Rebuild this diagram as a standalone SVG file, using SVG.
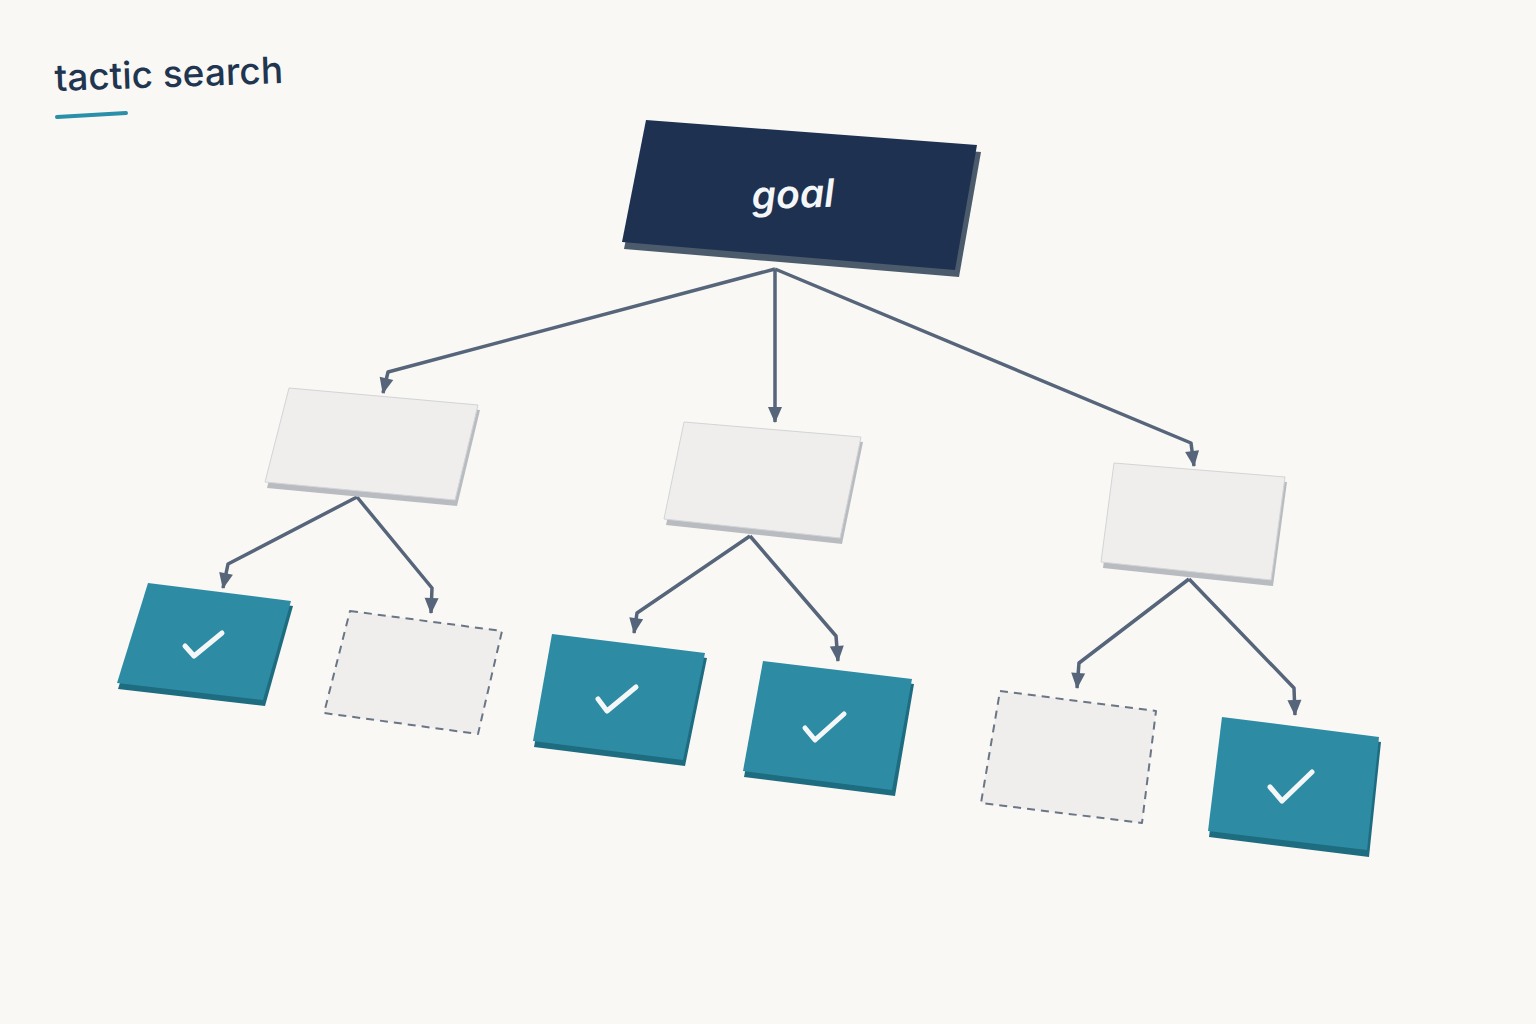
<svg xmlns="http://www.w3.org/2000/svg" width="1536" height="1024" viewBox="0 0 1536 1024">
<defs>
<style>
.title{font-family:"Inter","Liberation Sans",sans-serif;font-size:37px;fill:#1f3550;font-weight:500}
.goaltxt{font-family:"Inter","Liberation Sans",sans-serif;font-size:39px;fill:#f4f6f8;font-style:italic;font-weight:600}
.conn{fill:none;stroke:#56657a;stroke-width:3.5;stroke-linejoin:round;marker-end:url(#arr)}
.gface{fill:#1e3150}
.gside{fill:#4b5b6c}
.mface{fill:#efeeec;stroke:#d2d4d6;stroke-width:1}
.mside{fill:#b8bcc0}
.tface{fill:#2e8ba4}
.tside{fill:#1e6c80}
.dface{fill:#efeeec;stroke:#6a7585;stroke-width:2;stroke-dasharray:8 6;stroke-linejoin:round}
.chk{fill:none;stroke:#f4f7f8;stroke-width:5;stroke-linecap:round;stroke-linejoin:round}
</style>
<marker id="arr" markerUnits="userSpaceOnUse" markerWidth="18" markerHeight="18" viewBox="0 0 18 18" refX="16" refY="9" orient="auto">
<path d="M1,2 L17,9 L1,16 Z" fill="#56657a"/>
</marker>
</defs>
<rect width="1536" height="1024" fill="#f9f8f5"/>
<g id="title">
<text class="title" x="55" y="91" transform="rotate(-2 55 91)">tactic search</text>
<line x1="57" y1="117" x2="126" y2="113" stroke="#2a8fa8" stroke-width="4" stroke-linecap="round"/>
</g>
<g id="connectors">
<path class="conn" d="M775,269 L388,372 L383,393"/>
<path class="conn" d="M775,269 L775,422"/>
<path class="conn" d="M775,269 L1191,443 L1194,466"/>
<path class="conn" d="M357,497 L228,564 L223,588"/>
<path class="conn" d="M357,497 L432,588 L431,613"/>
<path class="conn" d="M750,536 L637,613 L634,633"/>
<path class="conn" d="M750,536 L836,636 L838,661"/>
<path class="conn" d="M1189,579 L1079,663 L1077,688"/>
<path class="conn" d="M1189,579 L1294,688 L1295,715"/>
</g>
<g id="goal">
<polygon class="gside" points="648,127 981,152 959,277 624,249"/>
<polygon class="gface" points="646,120 977,145 955,270 622,242"/>
<text class="goaltxt" x="793" y="208" text-anchor="middle" transform="rotate(-2 793 195)">goal</text>
</g>
<g id="tactic-a">
<polygon class="mside" points="291,393 480,410 457,506 267,488"/>
<polygon class="mface" points="289,388 478,405 455,500 265,482"/>
</g>
<g id="tactic-b">
<polygon class="mside" points="686,427 863,442 842,544 666,525"/>
<polygon class="mface" points="684,422 861,437 840,538 664,519"/>
</g>
<g id="tactic-c">
<polygon class="mside" points="1116,468 1287,482 1273,586 1103,568"/>
<polygon class="mface" points="1114,463 1285,477 1271,580 1101,562"/>
</g>
<g id="leaf-1">
<polygon class="tside" points="150,588 293,606 265,706 118,689"/>
<polygon class="tface" points="148,583 291,601 263,700 117,683"/>
<polyline class="chk" points="185,646 194,656 222,633"/>
</g>
<g id="leaf-2">
<polygon class="dface" points="350,611 502,631 478,734 324,713"/>
</g>
<g id="leaf-3">
<polygon class="tside" points="554,639 707,658 685,766 534,747"/>
<polygon class="tface" points="552,634 705,653 683,760 533,741"/>
<polyline class="chk" points="598,699 607,711 636,687"/>
</g>
<g id="leaf-4">
<polygon class="tside" points="765,666 914,684 895,796 744,777"/>
<polygon class="tface" points="763,661 912,679 892,790 743,771"/>
<polyline class="chk" points="805,728 815,740 844,714"/>
</g>
<g id="leaf-5">
<polygon class="dface" points="1000,691 1156,711 1142,823 981,803"/>
</g>
<g id="leaf-6">
<polygon class="tside" points="1224,722 1381,742 1369,857 1209,837"/>
<polygon class="tface" points="1222,717 1379,737 1367,850 1208,831"/>
<polyline class="chk" points="1270,787 1282,801 1312,772"/>
</g>
</svg>
